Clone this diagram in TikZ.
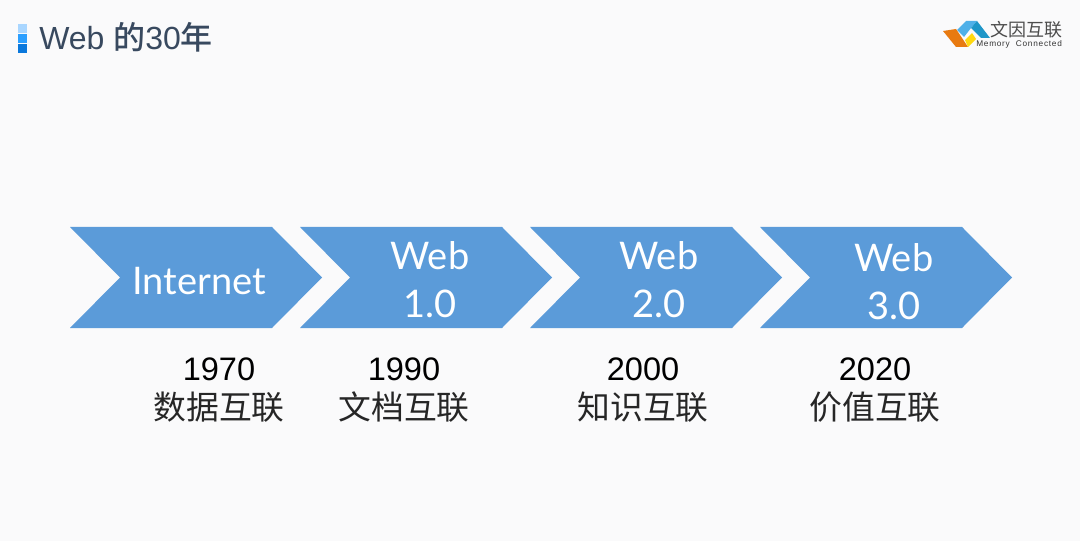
\documentclass[tikz,border=0pt]{standalone}
\usepackage{fontspec}
\setmainfont{Liberation Sans}
\newfontfamily\stagefont{Lato}
\newfontfamily\logosubfont{Liberation Sans}[LetterSpace=9]
\newfontfamily\cjk{Noto Sans CJK SC}
\newfontfamily\cjkbold{Noto Sans CJK SC Medium}
\definecolor{arrowblue}{RGB}{91, 155, 217}
\definecolor{pagegray}{RGB}{250, 250, 251}
\definecolor{titleslate}{RGB}{56, 73, 95}
\definecolor{markerlight}{RGB}{169, 214, 255}
\definecolor{markermid}{RGB}{43, 159, 255}
\definecolor{markerdark}{RGB}{10, 120, 220}
\definecolor{logoorange}{RGB}{232, 122, 16}
\definecolor{logoyellow}{RGB}{255, 216, 16}
\definecolor{logosky}{RGB}{79, 176, 232}
\definecolor{logoteal}{RGB}{30, 150, 200}
\usetikzlibrary{positioning}

\tikzset{
  stagelabel/.style={text=white, font=\stagefont\fontsize{28.5}{33}\selectfont, align=center, inner sep=0pt},
  yearlabel/.style={text=black, font=\fontsize{24.4}{29}\selectfont, inner sep=0pt},
  themelabel/.style={text=black!85, font=\cjk\fontsize{24.6}{29}\selectfont, inner sep=0pt},
}

\begin{document}
\begin{tikzpicture}[x=0.75pt, y=-0.75pt]
  \fill[pagegray] (0,0) rectangle (1080,541);
  \useasboundingbox (0,0) rectangle (1080,541);

  % title marker
  \fill[markerlight] (18,24) rectangle (27,33);
  \fill[markermid] (18,34) rectangle (27,43);
  \fill[markerdark] (18,44) rectangle (27,53);
  \node[text=titleslate, anchor=west, inner sep=0pt, font=\fontsize{24}{28}\selectfont] (title) at (39,37) {Web {\cjkbold 的}30{\cjkbold 年}};

  % logo
  \fill[logoorange] (943,31) -- (956,29) -- (968,47) -- (956,47) -- cycle;
  \fill[logoyellow] (965,40) -- (972,33) -- (976,39) -- (968,47) -- cycle;
  \fill[logosky] (957,30) -- (966,21) -- (977,21) -- (971,28) -- (964,37) -- cycle;
  \fill[logoteal] (971,28) -- (977,21) -- (990,38) -- (981,38) -- cycle;
  \node[text=black!70, anchor=west, inner sep=0pt, font=\cjk\fontsize{13.5}{16}\selectfont] (logotext) at (990,30) {文因互联};
  \node[text=black!80, anchor=west, inner sep=0pt, font=\logosubfont\fontsize{6.2}{7}\selectfont] (logosub) at (976,44.5) {Memory\ \ Connected};

  % chevrons
  \foreach \x in {70,300,530,760}
    \fill[arrowblue] (\x,227) -- ++(202,0) -- ++(50,50.5) -- ++(-50,50.5) -- ++(-202,0) -- ++(50,-50.5) -- cycle;

  \node[stagelabel] (internet) at (199,281) {Internet};
  \node[stagelabel] (webone) at (430,280) {Web\\[3pt]1.0};
  \node[stagelabel] (webtwo) at (659,280) {Web\\[3pt]2.0};
  \node[stagelabel] (webthree) at (894,282) {Web\\[3pt]3.0};

  % years and themes
  \node[yearlabel] (y1970) at (219,369) {1970};
  \node[themelabel] (t1970) at (219,407) {数据互联};
  \node[yearlabel] (y1990) at (404,369) {1990};
  \node[themelabel] (t1990) at (404,407) {文档互联};
  \node[yearlabel] (y2000) at (643,369) {2000};
  \node[themelabel] (t2000) at (643,407) {知识互联};
  \node[yearlabel] (y2020) at (875,369) {2020};
  \node[themelabel] (t2020) at (875,407) {价值互联};
\end{tikzpicture}
\end{document}
